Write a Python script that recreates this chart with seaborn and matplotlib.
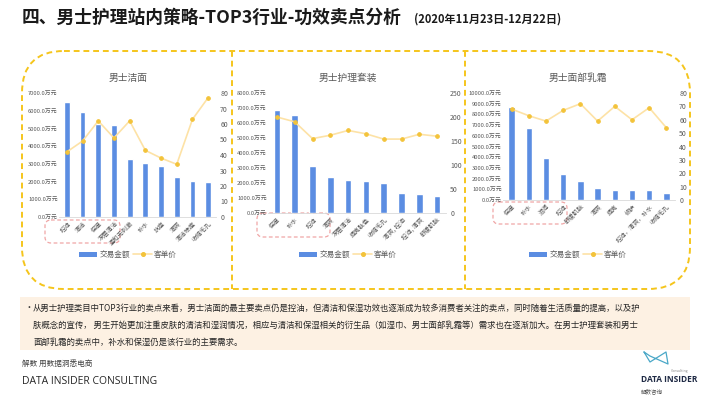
import numpy as np
import pandas as pd
import matplotlib
matplotlib.use("Agg")
import matplotlib.pyplot as plt
import seaborn as sns
from matplotlib.patches import FancyBboxPatch, Patch, Rectangle
from matplotlib.lines import Line2D

# ---------------- data ----------------
cats1 = ["控油", "清洁", "保湿", "深层清洁", "温和无刺激", "补水", "抗痘", "清爽", "清洁祛痘", "收缩毛孔"]
sales1 = [6500, 5950, 5250, 5200, 3250, 3050, 2900, 2250, 2050, 1950]
price1 = [42, 49, 62, 51, 62, 43, 38, 34, 63, 77]

cats2 = ["保湿", "补水", "控油", "清爽", "深层清洁", "提亮肤色", "收缩毛孔", "清爽, 控油", "控油, 清爽", "舒缓肌肤"]
sales2 = [6850, 6550, 3150, 2400, 2200, 2150, 2000, 1350, 1250, 1150]
price2 = [200, 190, 155, 162, 172, 165, 154, 154, 164, 160]

cats3 = ["保湿", "补水", "滋润", "控油", "舒缓肌肤", "清爽", "提亮", "修护", "控油，清爽，补水", "收缩毛孔"]
sales3 = [8700, 6700, 3900, 2450, 1750, 1100, 950, 950, 950, 700]
price3 = [68, 63, 59, 67, 72, 59, 70, 60, 69, 54]

titles = ["男士洁面", "男士护理套装", "男士面部乳霜"]
left_max = [7000, 8000, 10000]
right_max = [80, 250, 80]
right_step = [10, 50, 10]

# ---------------- style ----------------
sns.set_theme(style="white")
plt.rcParams['font.family'] = ['Noto Sans CJK SC', 'DejaVu Sans']

W, H = 710, 399
fig = plt.figure(figsize=(W / 100, H / 100), dpi=100)
fig.patch.set_facecolor("white")

bg = fig.add_axes([0, 0, 1, 1], zorder=-1)
bg.set_xlim(0, W)
bg.set_ylim(H, 0)
bg.axis("off")

def px_axes(l, t, r, b):
    return fig.add_axes([l / W, 1 - b / H, (r - l) / W, (b - t) / H])

BLUE = "#5b8de2"
LINEC = "#fde2a6"
MARK = "#f3c33a"
GRAY = "#595959"

# title
fig.text(22 / W, 1 - 18 / H, "四、男士护理站内策略-TOP3行业-功效卖点分析", fontsize=12.8,
         fontweight="bold", color="#1a1a1a", va="center", ha="left")
fig.text(414 / W, 1 - 19 / H, "(2020年11月23日-12月22日)", fontsize=8, fontweight="bold",
         color="#1a1a1a", va="center", ha="left")

# yellow dashed outer box
box = FancyBboxPatch((22, 51), 668, 238, boxstyle="round,pad=0,rounding_size=42",
                     fill=False, edgecolor="#f5c51c", linestyle=(0, (3, 2)), linewidth=1.4)
bg.add_patch(box)
for xd in [232, 465]:
    bg.plot([xd, xd], [51, 289], color="#f5c51c", linestyle=(0, (3, 2)), linewidth=1.4)

# panel positions (l, t, r, b) in pixels
positions = [(59, 93, 216, 217), (268, 93, 446, 213), (503, 93, 675, 200)]
centers = [128, 348, 578]
redboxes = [(45, 220, 120, 243), (257, 213, 330, 237), (493, 202, 567, 224)]

datasets = [(cats1, sales1, price1), (cats2, sales2, price2), (cats3, sales3, price3)]

for i, (cats, sales, price) in enumerate(datasets):
    l, t, r, b = positions[i]
    ax = px_axes(l, t, r, b)
    ax.patch.set_alpha(0)
    df = pd.DataFrame({"cat": cats, "sales": sales, "price": price})
    sns.barplot(data=df, x="cat", y="sales", color=BLUE, width=0.37, ax=ax,
                saturation=1, order=cats)
    ax.set_ylim(0, left_max[i])
    ax.set_yticks(np.arange(0, left_max[i] + 1, 1000))
    ax.set_yticklabels([f"{v:.1f}万元" for v in np.arange(0, left_max[i] + 1, 1000)],
                       fontsize=4.2, color=GRAY)
    ax.set_xlabel("")
    ax.set_ylabel("")
    ax.tick_params(axis="both", length=0, pad=1)
    for s in ["top", "right", "left"]:
        ax.spines[s].set_visible(False)
    ax.spines["bottom"].set_color("#d9d9d9")
    ax.spines["bottom"].set_linewidth(0.6)

    ax2 = ax.twinx()
    sns.lineplot(data=df, x="cat", y="price", ax=ax2, color=LINEC, linewidth=1.2,
                 marker="o", markersize=2.6, markerfacecolor=MARK, markeredgecolor=MARK)
    ax2.set_ylim(0, right_max[i])
    ax2.set_yticks(np.arange(0, right_max[i] + 1, right_step[i]))
    ax2.set_yticklabels([str(v) for v in np.arange(0, right_max[i] + 1, right_step[i])],
                        fontsize=5, color=GRAY)
    ax2.tick_params(axis="y", length=0, pad=3)
    ax2.set_ylabel("")
    ax2.set_xlabel("")
    for s in ["top", "right", "left", "bottom"]:
        ax2.spines[s].set_visible(False)
    ax.set_xlim(-0.5, len(cats) - 0.5)
    ax.set_xticks(range(len(cats)))
    ax.set_xticklabels(cats, rotation=45, ha="right", rotation_mode="anchor",
                       fontsize=4.5, color=GRAY)
    ax.tick_params(axis="x", pad=2)

    fig.text(centers[i] / W, 1 - 78 / H, titles[i], fontsize=7, color=GRAY,
             ha="center", va="center")

    handles = [Patch(facecolor=BLUE, edgecolor="none"),
               Line2D([0], [0], color=LINEC, linewidth=1.2, marker="o", markersize=2.6,
                      markerfacecolor=MARK, markeredgecolor=MARK)]
    fig.legend(handles, ["交易金额", "客单价"], loc="center",
               bbox_to_anchor=(centers[i] / W, 1 - 255 / H), ncol=2, frameon=False,
               fontsize=5.5, handlelength=2.4, handleheight=0.6, columnspacing=0.4,
               handletextpad=0.3, labelcolor=GRAY)

    rl, rt, rr, rb = redboxes[i]
    bg.add_patch(FancyBboxPatch((rl, rt), rr - rl, rb - rt,
                                boxstyle="round,pad=0,rounding_size=6", fill=False,
                                edgecolor="#f0a6a6", linestyle=(0, (3, 2)), linewidth=0.9))

# bottom text box
bg.add_patch(Rectangle((20, 297), 670, 53, facecolor="#fdf1e3", edgecolor="none"))
lines = ["从男士护理类目中TOP3行业的卖点来看，男士洁面的最主要卖点仍是控油，但清洁和保湿功效也逐渐成为较多消费者关注的卖点，同时随着生活质量的提高，以及护",
         "肤概念的宣传， 男生开始更加注重皮肤的清洁和湿润情况，相应与清洁和保湿相关的衍生品（如湿巾、男士面部乳霜等）需求也在逐渐加大。在男士护理套装和男士",
         "面部乳霜的卖点中，补水和保湿仍是该行业的主要需求。"]
bg.text(24, 308, "•", fontsize=6.5, color="#333333", va="center", ha="left")
for k, ln in enumerate(lines):
    bg.text(33, 308 + k * 17, ln, fontsize=6.05, color="#262626", va="center", ha="left")

# footer
bg.text(22, 364, "解数 用数据洞悉电商", fontsize=5.5, color="#404040", va="center", ha="left")
bg.text(22, 382, "DATA INSIDER CONSULTING", fontsize=7.5, color="#262626", va="center",
        ha="left", family=["Open Sans", "DejaVu Sans"])

# logo
bg.plot([644, 650, 666, 668, 650, 644], [352, 362, 352, 364, 356, 352], color="#4aa8c8",
        linewidth=0.9)
bg.text(680, 371, "Consulting", fontsize=2.5, color="#888888", va="center", ha="center")
bg.text(641, 380, "DATA INSIDER", fontsize=6, fontweight="bold", color="#1f2a44",
        va="center", ha="left", family=["Open Sans", "DejaVu Sans"])
bg.text(641, 391, "解数咨询", fontsize=4, color="#555555", va="center", ha="left")

fig.savefig("out.png", dpi=100)
